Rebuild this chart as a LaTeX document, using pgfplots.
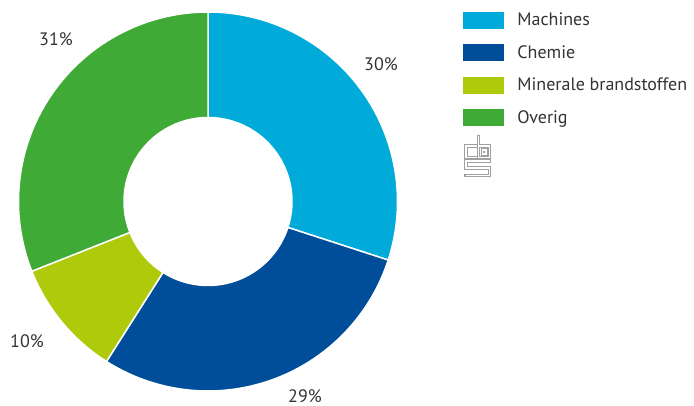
\documentclass[border=0pt]{standalone}
\usepackage{pgfplots}
\pgfplotsset{compat=1.18}
\usepackage{pgfplotstable}
\usepackage{fontspec}
\setmainfont{PT Sans}
\definecolor{cMach}{HTML}{00AAD9}
\definecolor{cChem}{HTML}{004E9A}
\definecolor{cMin}{HTML}{AFCA0B}
\definecolor{cOv}{HTML}{3FAA36}
\definecolor{txt}{HTML}{333333}
\definecolor{logo}{HTML}{A0A0A0}
\pgfplotstableread{
label value col lx ly
Machines 30 cMach 381 64
Chemie 29 cChem 305 396
Minerale 10 cMin 27 341
Overig 31 cOv 56 39
}\shares
\newcommand\lblfont{\fontsize{18}{21}\selectfont}
\newcommand\logopaths{%
  (axis cs:476.5,146) -- (axis cs:466,146) -- (axis cs:466,157.5) -- (axis cs:476.5,157.5)
  (axis cs:478.5,136.5) -- (axis cs:478.5,157.5) -- (axis cs:489.5,157.5) -- (axis cs:489.5,146) -- (axis cs:478.5,146)
  (axis cs:482.5,150) rectangle (axis cs:486,154)
  (axis cs:489.5,161) -- (axis cs:466,161) -- (axis cs:466,168) -- (axis cs:489.5,168) -- (axis cs:489.5,175.5) -- (axis cs:466,175.5)}
\begin{document}
\begin{tikzpicture}
\begin{axis}[
  scale only axis, width=694pt, height=406pt,
  xmin=0, xmax=694, ymin=0, ymax=406, y dir=reverse,
  hide axis, clip=false,
  legend image code/.code={\fill[#1] (0pt,-8pt) rectangle (40pt,8pt); \path (54pt,0pt);},
  legend style={at={(axis cs:463,12)}, anchor=north west, draw=none, fill=none,
    inner sep=0pt, outer sep=0pt, row sep=16pt, font=\lblfont, text=txt,
    cells={anchor=west}, nodes={inner sep=0pt}},
]
\path (axis cs:0,0) rectangle (axis cs:694,406);
\def\s{90}
\pgfplotsforeachungrouped \i in {0,...,3}{%
  \pgfplotstablegetelem{\i}{value}\of\shares \let\v\pgfplotsretval
  \pgfplotstablegetelem{\i}{col}\of\shares \let\c\pgfplotsretval
  \pgfplotstablegetelem{\i}{lx}\of\shares \let\lx\pgfplotsretval
  \pgfplotstablegetelem{\i}{ly}\of\shares \let\ly\pgfplotsretval
  \pgfmathsetmacro\e{\s-3.6*\v}%
  \edef\temp{\noexpand\fill[\c, draw=white, line width=1.5pt, line join=round]
     ([shift={(\s:189.5pt)}]axis cs:208,201.5) arc[start angle=\s, end angle=\e, radius=189.5pt]
     -- ([shift={(\e:84pt)}]axis cs:208,201.5) arc[start angle=\e, end angle=\s, radius=84pt] -- cycle;
     \noexpand\node[text=txt, font=\noexpand\lblfont, inner sep=0pt] at (axis cs:\lx,\ly) {\v\noexpand\%};}%
  \temp
  \let\s\e
}
\addlegendimage{cMach}\addlegendentry{Machines}
\addlegendimage{cChem}\addlegendentry{Chemie}
\addlegendimage{cMin}\addlegendentry{Minerale brandstoffen}
\addlegendimage{cOv}\addlegendentry{Overig}
% cbs logo
\draw[logo, line width=3.2pt, line cap=rect] \logopaths;
\draw[white, line width=1.1pt, line cap=butt] \logopaths;
\end{axis}
\end{tikzpicture}
\end{document}
